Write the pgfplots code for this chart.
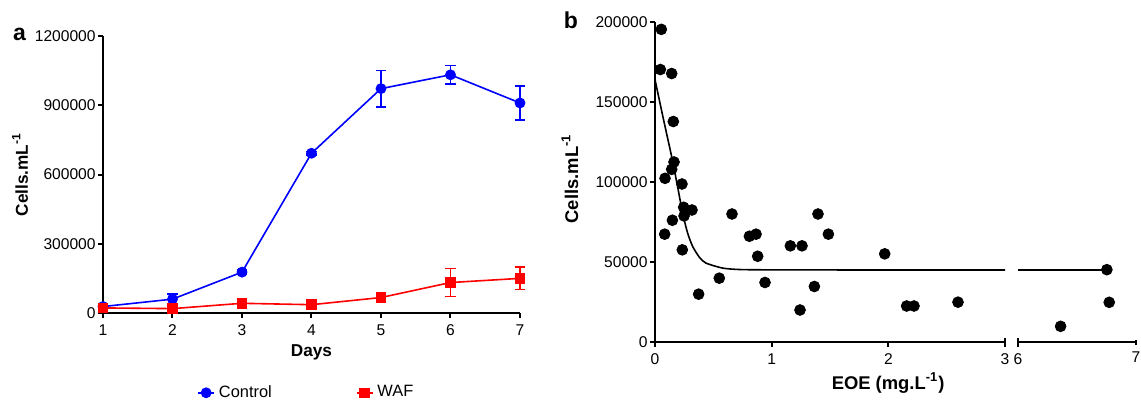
\documentclass[border=0pt]{standalone}
\usepackage{fontspec}
\setmainfont{Liberation Sans}
\usepackage{pgfplots}
\pgfplotsset{compat=1.18}

\pgfplotsset{
  gp/.style={
    scale only axis,
    axis lines=left,
    axis line style={-, line width=1pt, black},
    tick align=outside,
    major tick length=2.5pt,
    every tick/.style={line width=1pt, black},
    tick label style={font=\fontsize{7.8}{9}\selectfont},
    yticklabel style={inner xsep=1pt},
    label style={font=\bfseries\fontsize{8.6}{10}\selectfont},
    /pgf/number format/.cd, fixed, 1000 sep={}, assume math mode=true,
    /pgfplots/.cd,
    scaled ticks=false,
    clip=false,
  },
}

\begin{document}
\begin{tikzpicture}

% panel a: growth curves
\begin{axis}[gp,
    at={(51.5pt,-156.5pt)}, anchor=south west,
    width=208.5pt, height=138.5pt,
    xmin=1, xmax=7, ymin=0, ymax=1200000,
    xtick={1,2,3,4,5,6,7},
    ytick={0,300000,600000,900000,1200000},
    xlabel={Days},
    ylabel={Cells.mL\textsuperscript{-1}},
    xlabel style={at={(axis description cs:0.5,-0.143)}, anchor=center},
    ylabel style={at={(axis description cs:-0.199,0.5)}, anchor=center},
    error bars/error bar style={line width=0.8pt},
    error bars/error mark options={rotate=90, mark size=2.6pt, line width=0.8pt},
    legend style={at={(0.49,-0.288)}, anchor=center, draw=none, fill=none,
      legend columns=2, font=\fontsize{8.2}{10}\selectfont,
      /tikz/every even column/.append style={column sep=40pt}},
    legend image code/.code={\draw[mark repeat=2,mark phase=2,#1] plot coordinates {(0pt,0pt) (4pt,0pt) (8pt,0pt)};},
]
\addplot[blue, line width=0.8pt, mark=*, mark size=2.3pt,
    error bars/.cd, y dir=both, y explicit]
coordinates {
    (1,28000) +- (0,6000)
    (2,60000) +- (0,22000)
    (3,177000) +- (0,8000)
    (4,692000) +- (0,8000)
    (5,972000) +- (0,79000)
    (6,1032000) +- (0,41000)
    (7,910000) +- (0,74000)
};
\addlegendentry{Control}
\addplot[red, line width=0.8pt, mark=square*, mark size=2.2pt,
    error bars/.cd, y dir=both, y explicit]
coordinates {
    (1,22000) +- (0,10000)
    (2,19000) +- (0,4000)
    (3,42000) +- (0,6000)
    (4,36000) +- (0,5000)
    (5,67000) +- (0,6000)
    (6,132000) +- (0,60000)
    (7,150000) +- (0,48000)
};
\addlegendentry{WAF}
\node[font=\bfseries\fontsize{11.5}{13}\selectfont] at (rel axis cs:-0.2,1.004) {a};
\end{axis}

% panel b, left part of the broken x axis
\begin{axis}[gp,
    at={(327.5pt,-171pt)}, anchor=south west,
    width=175pt, height=160pt,
    xmin=0, xmax=3, ymin=0, ymax=200000,
    xtick={0,1,2},
    extra x ticks={3},
    extra x tick style={tick align=center, major tick length=4.5pt},
    ytick={0,50000,100000,150000,200000},
    label style={font=\bfseries\fontsize{9.2}{11}\selectfont},
    xlabel={EOE (mg.L\textsuperscript{-1})},
    ylabel={Cells.mL\textsuperscript{-1}},
    xlabel style={at={(axis description cs:0.666,-0.128)}, anchor=center},
    ylabel style={at={(axis description cs:-0.243,0.51)}, anchor=center},
]
\addplot[black, line width=0.8pt, smooth, tension=0.4] coordinates {
    (0,164000) (0.071,139700) (0.143,115800) (0.191,98100) (0.237,80500)
    (0.28,68000) (0.323,59700) (0.38,53000) (0.437,49300) (0.58,46200)
    (0.723,45300) (1.0,45100) (2.0,45000) (3.0,45000)
};
\addplot[only marks, mark=*, mark size=2.7pt, black] coordinates {
    (0.054,195400) (0.046,170300) (0.143,167800) (0.157,137800)
    (0.163,112500) (0.143,107900) (0.086,102300) (0.231,98750)
    (0.246,84200) (0.317,82500) (0.249,78800) (0.149,76100)
    (0.083,67400) (0.234,57600) (0.374,29900) (0.551,39900)
    (0.66,80000) (0.809,66100) (0.866,67400) (0.88,53600)
    (0.943,37200) (1.16,60100) (1.26,60100) (1.243,20000)
    (1.366,34700) (1.397,80000) (1.486,67400) (1.969,55100)
    (2.157,22500) (2.22,22500) (2.597,24900)
};
\node[font=\bfseries\fontsize{11.5}{13}\selectfont] at (rel axis cs:-0.24,1.006) {b};
\end{axis}

% panel b, right part of the broken x axis
\begin{axis}[gp,
    at={(509pt,-171pt)}, anchor=south west,
    width=59pt, height=160pt,
    xmin=6, xmax=7, ymin=0, ymax=200000,
    axis x line=bottom, axis y line=none,
    axis line style={-},
    xtick={7}, ytick=\empty,
    extra x ticks={6},
    extra x tick style={tick align=center, major tick length=4.5pt},
]
\addplot[black, line width=0.8pt] coordinates {(6.0,45000) (6.753,45000)};
\addplot[only marks, mark=*, mark size=2.7pt, black] coordinates {
    (6.753,45200) (6.773,24800) (6.361,9800)
};
\end{axis}

\pgfresetboundingbox
\useasboundingbox (0,0) rectangle (570.5pt,-200.5pt);
\end{tikzpicture}
\end{document}
